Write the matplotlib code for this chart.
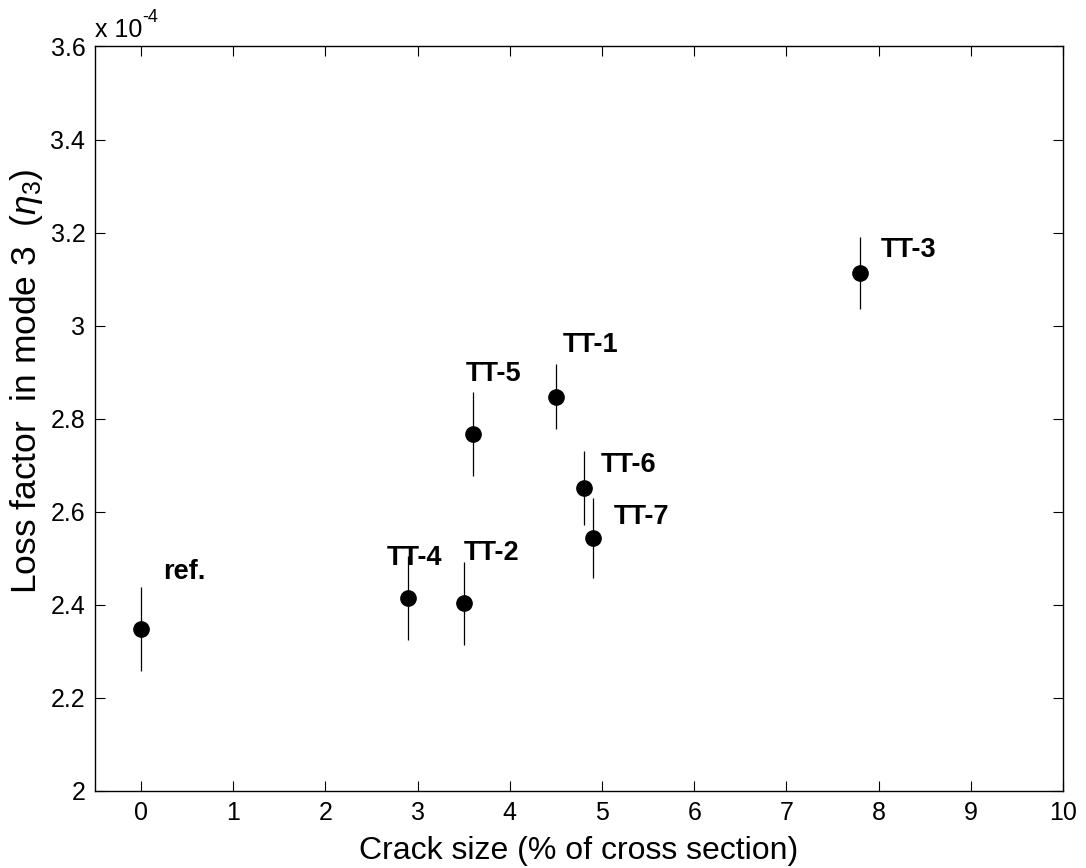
import matplotlib
matplotlib.use("Agg")
import matplotlib.pyplot as plt
from matplotlib.ticker import FuncFormatter

plt.rcParams['font.family'] = ['Liberation Sans', 'DejaVu Sans']
plt.rcParams['mathtext.fontset'] = 'custom'
plt.rcParams['mathtext.it'] = 'Liberation Sans:italic'
plt.rcParams['mathtext.rm'] = 'Liberation Sans'

# data (loss factor in units of 1e-4)
labels = ['ref.', 'TT-4', 'TT-2', 'TT-5', 'TT-1', 'TT-6', 'TT-7', 'TT-3']
crack = [0.0, 2.9, 3.5, 3.6, 4.5, 4.8, 4.9, 7.8]
loss = [2.348, 2.414, 2.403, 2.768, 2.847, 2.651, 2.543, 3.113]
err = [0.090, 0.090, 0.089, 0.090, 0.070, 0.080, 0.086, 0.078]
# label offsets in pixels (dx, dy) from point to label left/center
label_off = [(22, 57), (-22, 40), (0, 50), (-7, 60), (7, 52), (17, 23), (21, 21), (21, 23)]

xticks = list(range(0, 11))
yticks = [2.0, 2.2, 2.4, 2.6, 2.8, 3.0, 3.2, 3.4, 3.6]

fig = plt.figure(figsize=(10.86, 8.68), dpi=100)
ax = fig.add_axes([95/1086, 1 - 791/868, (1063-95)/1086, (791-46.5)/868])

ax.errorbar(crack, loss, yerr=err, fmt='o', color='black', ecolor='black',
            elinewidth=0.9, markersize=11, capsize=0)

for x, y, lab, (dx, dy) in zip(crack, loss, labels, label_off):
    ax.annotate(lab, (x, y), xytext=(dx, dy), textcoords='offset pixels',
                ha='left', va='center', fontsize=19.5, fontweight='bold')

ax.set_xlim(-0.5, 10)
ax.set_ylim(2.0, 3.6)
ax.set_xticks(xticks)
ax.set_yticks(yticks)
ax.yaxis.set_major_formatter(FuncFormatter(lambda v, p: '%g' % round(v, 2)))
ax.tick_params(direction='in', length=7, width=0.8, top=True, right=True,
               labelsize=18, pad=7)
for s in ax.spines.values():
    s.set_linewidth(1.0)

ax.set_xlabel('Crack size (% of cross section)', fontsize=23, labelpad=8)
fig.text(8/1086, (868 - 594)/868, r'Loss factor  in mode 3  ($\eta_3$)',
         rotation=90, ha='left', va='bottom', fontsize=25.5)

fig.text(95/1086, 1 - 30/868, 'x 10', fontsize=18, ha='left', va='center')
fig.text(142/1086, 1 - 17/868, '-4', fontsize=13, ha='left', va='center')

fig.savefig('out.png', dpi=100)
